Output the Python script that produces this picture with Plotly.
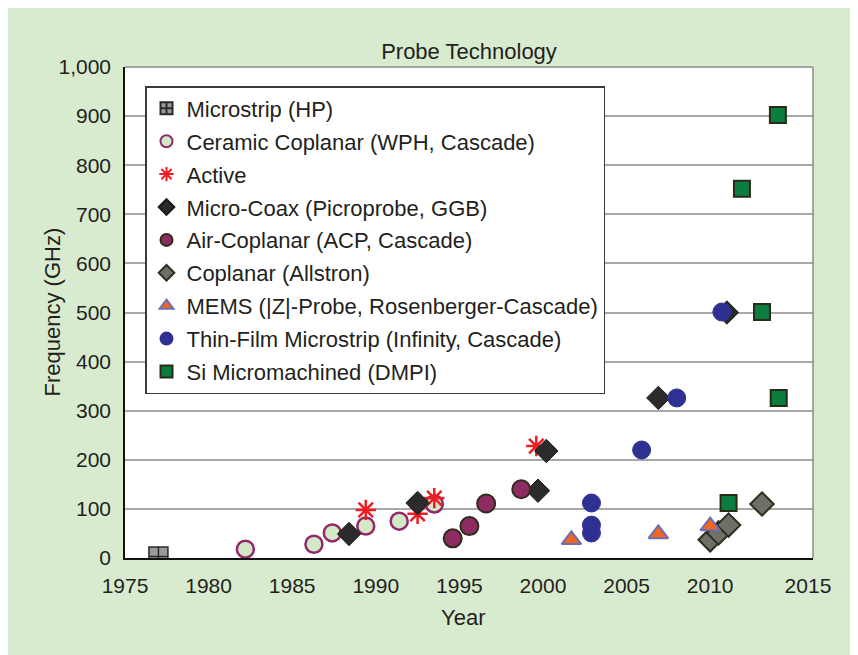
import plotly.graph_objects as go

# ---------------- data ----------------
microstrip_year = [1977.0]
microstrip_ghz = [3]

ceramic_year = [1982.2, 1986.3, 1987.4, 1989.4, 1991.4, 1993.5]
ceramic_ghz = [18, 28, 51, 65, 75, 110]

active_year = [1989.4, 1992.5, 1993.5, 1999.6]
active_ghz = [98, 90, 122, 228]

microcoax_year = [1988.4, 1992.5, 1999.7, 2000.2, 2006.9, 2011.0]
microcoax_ghz = [49, 112, 137, 218, 326, 500]

aircoplanar_year = [1994.6, 1995.6, 1996.6, 1998.7]
aircoplanar_ghz = [40, 65, 111, 140]

allstron_year = [2010.0, 2010.5, 2011.1, 2013.1]
allstron_ghz = [37, 51, 67, 110]

mems_year = [2001.7, 2006.9, 2010.0]
mems_ghz = [37, 49, 65]

thinfilm_year = [2002.9, 2002.9, 2002.9, 2005.9, 2008.0, 2010.7]
thinfilm_ghz = [51, 67, 112, 220, 326, 501]

si_year = [2011.1, 2014.1, 2013.1, 2011.9, 2014.05]
si_ghz = [112, 326, 501, 752, 902]

x_tick_vals = [1975, 1980, 1985, 1990, 1995, 2000, 2005, 2010, 2015.85]
x_tick_text = ["1975", "1980", "1985", "1990", "1995", "2000", "2005", "2010", "2015"]
y_tick_vals = [0, 100, 200, 300, 400, 500, 600, 700, 800, 900, 1000]

FONT = "Liberation Sans, Arial, Helvetica, sans-serif"
TXT = "#231f20"

fig = go.Figure()

def add(name, xs, ys, symbol, size, color, lcolor, lwidth):
    fig.add_trace(go.Scatter(
        x=xs, y=ys, mode="markers", name=name, legendgroup=name,
        marker=dict(symbol=symbol, size=size, color=color,
                    line=dict(color=lcolor, width=lwidth)),
    ))

add("Microstrip (HP)", microstrip_year, microstrip_ghz, "square-cross", 19, "#9b9b9b", "#2a2a2a", 1.5)
add("Ceramic Coplanar (WPH, Cascade)", ceramic_year, ceramic_ghz, "circle", 17, "#d3e8c6", "#93286a", 2.5)
add("Active", active_year, active_ghz, "asterisk-open", 17, "#ee1c25", "#ee1c25", 2.5)
add("Micro-Coax (Picroprobe, GGB)", microcoax_year, microcoax_ghz, "diamond", 18, "#2b2b2b", "#1a1a1a", 1)
add("Air-Coplanar (ACP, Cascade)", aircoplanar_year, aircoplanar_ghz, "circle", 18, "#8e2c61", "#2e2c1c", 2)
add("Coplanar (Allstron)", allstron_year, allstron_ghz, "diamond", 18, "#6d7064", "#2d2d20", 2)
add("MEMS (|Z|-Probe, Rosenberger-Cascade)", mems_year, mems_ghz, "triangle-up", 17, "#f26522", "#6b6eb2", 2)
add("Thin-Film Microstrip (Infinity, Cascade)", thinfilm_year, thinfilm_ghz, "circle", 18, "#2e3192", "#2e3192", 1)
add("Si Micromachined (DMPI)", si_year, si_ghz, "square", 16, "#0b7d3e", "#2a2a18", 2)

# page is shown with an 8px body margin, so work in window pixels minus 8
OFF = 8
W, H = 858 - OFF, 655 - OFF
L, T = 125 - OFF, 67 - OFF
R = W - (813 - OFF)
B = H - (558 - OFF)
pw, ph = W - L - R, H - T - B

def px_x(px):
    return (px - OFF - L) / pw

def px_y(py):
    return (H - B - (py - OFF)) / ph

fig.update_layout(
    width=W, height=H,
    margin=dict(l=L, r=R, t=T, b=B, autoexpand=False),
    paper_bgcolor="#d9ebcf",
    plot_bgcolor="white",
    font=dict(family=FONT, color=TXT, size=21),
    showlegend=True,
    title=dict(text="Probe Technology", x=0.5, xref="paper", xanchor="center",
               y=1 - (51 - OFF) / H, yanchor="middle", font=dict(size=22, color=TXT)),
    legend=dict(
        x=px_x(145), y=px_y(86), xanchor="left", yanchor="top",
        bgcolor="white", bordercolor="#3a3a3a", borderwidth=1.5,
        font=dict(size=22, color=TXT, family=FONT),
        itemsizing="constant", tracegroupgap=1.3, traceorder="grouped",
    ),
    xaxis=dict(
        range=[1975, 2016.15], tickmode="array", tickvals=x_tick_vals, ticktext=x_tick_text,
        showgrid=False, zeroline=False, showline=True, linecolor="#111111", linewidth=1.5,
        ticks="", ticklabelstandoff=8, tickfont=dict(size=21, color=TXT),
    ),
    yaxis=dict(
        range=[0, 1000], tickmode="array", tickvals=y_tick_vals, separatethousands=True,
        showgrid=True, gridcolor="#a8a8a8", gridwidth=1.5, zeroline=False,
        showline=True, linecolor="#111111", linewidth=1.5,
        ticks="", ticklabelstandoff=8, tickfont=dict(size=21, color=TXT),
    ),
    shapes=[
        dict(type="line", xref="paper", yref="paper", layer="above",
             x0=0, x1=1, y0=1, y1=1, line=dict(color="#8a8a8a", width=1.5)),
        dict(type="line", xref="paper", yref="paper", layer="above",
             x0=1, x1=1, y0=0, y1=1, line=dict(color="#8a8a8a", width=1.5)),
    ],
    annotations=[
        dict(text="Frequency (GHz)", xref="paper", yref="paper",
             x=px_x(52), y=0.5, textangle=-90, showarrow=False,
             xanchor="center", yanchor="middle", font=dict(size=22, color=TXT)),
        dict(text="Year", xref="paper", yref="paper",
             x=px_x(463), y=px_y(617), showarrow=False,
             xanchor="center", yanchor="middle", font=dict(size=22, color=TXT)),
    ],
)

fig.write_html("out.html")
